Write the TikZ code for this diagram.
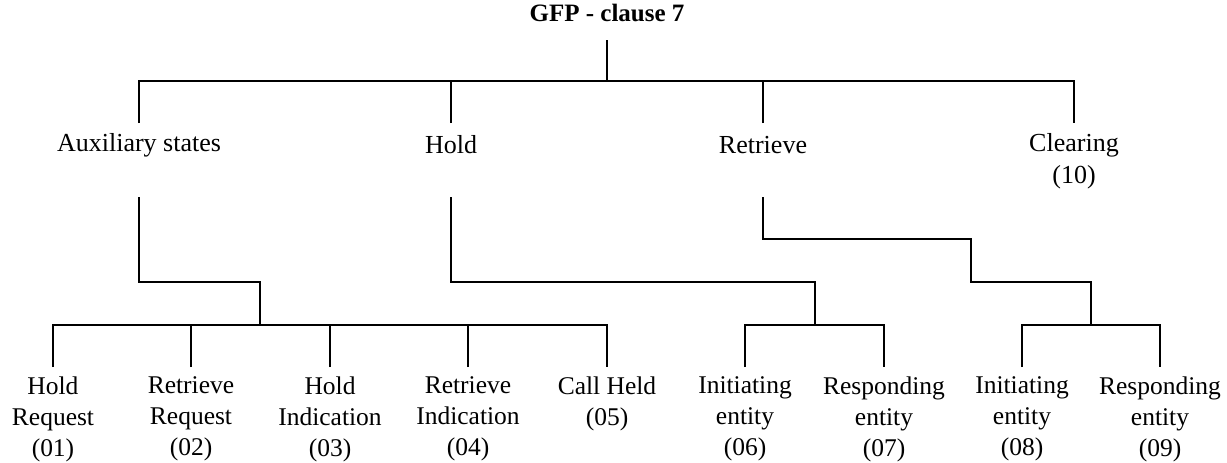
\documentclass[tikz,border=0pt]{standalone}
\usepackage{fontspec}
\setmainfont{Liberation Serif}
\begin{document}
\begin{tikzpicture}[x=1pt,y=-1pt,
  branch/.style={line width=2pt},
  heading/.style={font=\bfseries\fontsize{25}{30}\selectfont,inner sep=0pt},
  group/.style={font=\fontsize{26}{32}\selectfont,align=center,inner sep=0pt},
  leaf/.style={font=\fontsize{25.5}{31}\selectfont,align=center,inner sep=0pt}]
\useasboundingbox (0,0) rectangle (1227,463);
% labels
\node[heading] (gfp) at (607,13) {GFP - clause 7};
\node[group] (aux) at (139,145) {Auxiliary states};
\node[group] (hold) at (451,145) {Hold};
\node[group] (retr) at (763,145) {Retrieve};
\node[group] (clr) at (1074,161) {Clearing\\(10)};
\node[leaf] (l01) at (53,419) {Hold\\Request\\(01)};
\node[leaf] (l02) at (191,419) {Retrieve\\Request\\(02)};
\node[leaf] (l03) at (330,419) {Hold\\Indication\\(03)};
\node[leaf] (l04) at (468,419) {Retrieve\\Indication\\(04)};
\node[leaf] (l05) at (607,403.5) {Call Held\\(05)};
\node[leaf] (l06) at (745,419) {Initiating\\entity\\(06)};
\node[leaf] (l07) at (884,419) {Responding\\entity\\(07)};
\node[leaf] (l08) at (1022,419) {Initiating\\entity\\(08)};
\node[leaf] (l09) at (1160,419) {Responding\\entity\\(09)};
% line ends
\coordinate (gfp-out) at ([yshift=-27pt]gfp.center);
\coordinate (aux-in) at ([yshift=22pt]aux.center);
\coordinate (hold-in) at ([yshift=22pt]hold.center);
\coordinate (retr-in) at ([yshift=22pt]retr.center);
\coordinate (clr-in) at ([yshift=38pt]clr.center);
\coordinate (aux-out) at ([yshift=-52pt]aux.center);
\coordinate (hold-out) at ([yshift=-52pt]hold.center);
\coordinate (retr-out) at ([yshift=-52pt]retr.center);
\coordinate (l01-in) at ([yshift=52pt]l01.center);
\coordinate (l02-in) at ([yshift=52pt]l02.center);
\coordinate (l03-in) at ([yshift=52pt]l03.center);
\coordinate (l04-in) at ([yshift=52pt]l04.center);
\coordinate (l05-in) at ([yshift=36.5pt]l05.center);
\coordinate (l06-in) at ([yshift=52pt]l06.center);
\coordinate (l07-in) at ([yshift=52pt]l07.center);
\coordinate (l08-in) at ([yshift=52pt]l08.center);
\coordinate (l09-in) at ([yshift=52pt]l09.center);
% bus points
\coordinate (topbus) at (607,81);
\coordinate (auxbus) at (260,325);
\coordinate (holdbus) at (815,325);
\coordinate (retrbend) at (971,282);
\coordinate (retrbus) at (1091,325);
% top level
\draw[branch] (gfp-out) -- (topbus);
\draw[branch] (aux-in) |- (topbus) -| (clr-in);
\draw[branch] (hold-in) -- (hold-in |- topbus);
\draw[branch] (retr-in) -- (retr-in |- topbus);
% auxiliary states
\draw[branch] (aux-out) -- ++(0,85) -| (auxbus);
\draw[branch] (l01-in) |- (auxbus) -| (l05-in);
\draw[branch] (l02-in) -- (l02-in |- auxbus);
\draw[branch] (l03-in) -- (l03-in |- auxbus);
\draw[branch] (l04-in) -- (l04-in |- auxbus);
% hold
\draw[branch] (hold-out) -- ++(0,85) -| (holdbus);
\draw[branch] (l06-in) |- (holdbus) -| (l07-in);
% retrieve
\draw[branch] (retr-out) -- ++(0,42) -| (retrbend) -| (retrbus);
\draw[branch] (l08-in) |- (retrbus) -| (l09-in);
\end{tikzpicture}
\end{document}
